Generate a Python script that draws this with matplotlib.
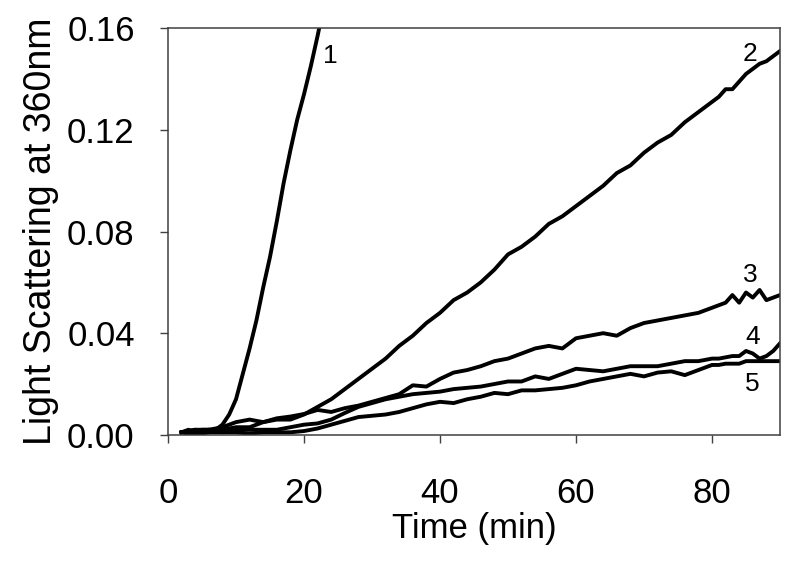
import matplotlib
matplotlib.use("Agg")
import matplotlib.pyplot as plt

plt.rcParams['font.family'] = ['Liberation Sans', 'DejaVu Sans']

# time grid shared by curves 2-5 (min)
time = [2, 4, 6, 8, 10, 12, 14, 16, 18, 20, 22, 24, 26, 28, 30, 32, 34, 36, 38, 40,
        42, 44, 46, 48, 50, 52, 54, 56, 58, 60, 62, 64, 66, 68, 70, 72, 74, 76, 78, 80,
        81, 82, 83, 84, 85, 86, 87, 88, 89, 90]

curve2 = [0.001, 0.002, 0.002, 0.003, 0.005, 0.006, 0.005, 0.006, 0.006, 0.008,
          0.011, 0.014, 0.018, 0.022, 0.026, 0.030, 0.035, 0.039, 0.044, 0.048,
          0.053, 0.056, 0.060, 0.065, 0.071, 0.074, 0.078, 0.083, 0.086, 0.090,
          0.094, 0.098, 0.103, 0.106, 0.111, 0.115, 0.118, 0.123, 0.127, 0.131,
          0.133, 0.136, 0.136, 0.139, 0.142, 0.144, 0.146, 0.147, 0.149, 0.151]

curve3 = [0.001, 0.002, 0.001, 0.002, 0.003, 0.003, 0.005, 0.0065, 0.0072, 0.0082,
          0.0098, 0.009, 0.0105, 0.0115, 0.013, 0.0145, 0.016, 0.0195, 0.019, 0.022,
          0.0245, 0.0255, 0.027, 0.029, 0.030, 0.032, 0.034, 0.035, 0.034, 0.038,
          0.039, 0.040, 0.039, 0.042, 0.044, 0.045, 0.046, 0.047, 0.048, 0.050,
          0.051, 0.052, 0.055, 0.052, 0.056, 0.054, 0.057, 0.053, 0.054, 0.055]

curve4 = [0.001, 0.001, 0.002, 0.001, 0.002, 0.002, 0.002, 0.002, 0.003, 0.004,
          0.0045, 0.006, 0.0086, 0.011, 0.0125, 0.014, 0.015, 0.016, 0.0165, 0.017,
          0.018, 0.0185, 0.019, 0.020, 0.021, 0.021, 0.023, 0.022, 0.024, 0.026,
          0.0255, 0.025, 0.026, 0.027, 0.027, 0.027, 0.028, 0.029, 0.029, 0.030,
          0.030, 0.0305, 0.031, 0.031, 0.033, 0.032, 0.030, 0.031, 0.033, 0.036]

curve5 = [0.001, 0.000, 0.001, 0.001, 0.001, 0.0005, 0.001, 0.001, 0.001, 0.0015,
          0.0025, 0.004, 0.0055, 0.007, 0.0075, 0.008, 0.009, 0.0105, 0.012, 0.013,
          0.0125, 0.014, 0.015, 0.0165, 0.016, 0.0175, 0.0175, 0.018, 0.0185, 0.0195,
          0.021, 0.022, 0.023, 0.024, 0.023, 0.0245, 0.025, 0.0235, 0.0255, 0.0275,
          0.0275, 0.028, 0.028, 0.028, 0.029, 0.029, 0.029, 0.029, 0.029, 0.029]

# curve 1 rises fast, own time grid
time1 = [2, 3, 4, 5, 6, 7, 8, 9, 10, 11, 12, 13, 14, 15, 16, 17, 18, 19, 20, 21, 22, 23]
curve1 = [0.001, 0.002, 0.001, 0.002, 0.002, 0.002, 0.004, 0.008, 0.014, 0.024, 0.034,
          0.045, 0.058, 0.070, 0.084, 0.099, 0.112, 0.124, 0.134, 0.145, 0.157, 0.170]

labels = ["1", "2", "3", "4", "5"]
label_x = [23.8, 85.6, 85.6, 86.0, 85.9]
label_y = [0.149, 0.150, 0.063, 0.0385, 0.020]

fig = plt.figure(figsize=(8, 5.64), dpi=100)
ax = fig.add_axes([0.21, 0.229, 0.765, 0.721])

ax.plot(time1, curve1, color="black", lw=2.8, solid_joinstyle="round")
for c in [curve2, curve3, curve4, curve5]:
    ax.plot(time, c, color="black", lw=2.8, solid_joinstyle="round")

for lab, lx, ly in zip(labels, label_x, label_y):
    ax.text(lx, ly, lab, fontsize=19, ha="center", va="center")

ax.set_xlim(0, 90)
ax.set_ylim(0, 0.16)
ax.set_xticks([0, 20, 40, 60, 80])
ax.set_yticks([0.0, 0.04, 0.08, 0.12, 0.16])
ax.set_yticklabels(["0.00", "0.04", "0.08", "0.12", "0.16"])
ax.tick_params(direction="out", length=6, width=1, colors="#404040",
               labelcolor="black", labelsize=25, pad=18)
ax.tick_params(axis="x", pad=24)
for s in ax.spines.values():
    s.set_color("#404040")
    s.set_linewidth(1.1)

ax.set_xlabel("Time (min)", fontsize=25, labelpad=2)
ax.set_ylabel("Light Scattering at 360nm", fontsize=27, labelpad=6)

fig.savefig("out.png", dpi=100)
